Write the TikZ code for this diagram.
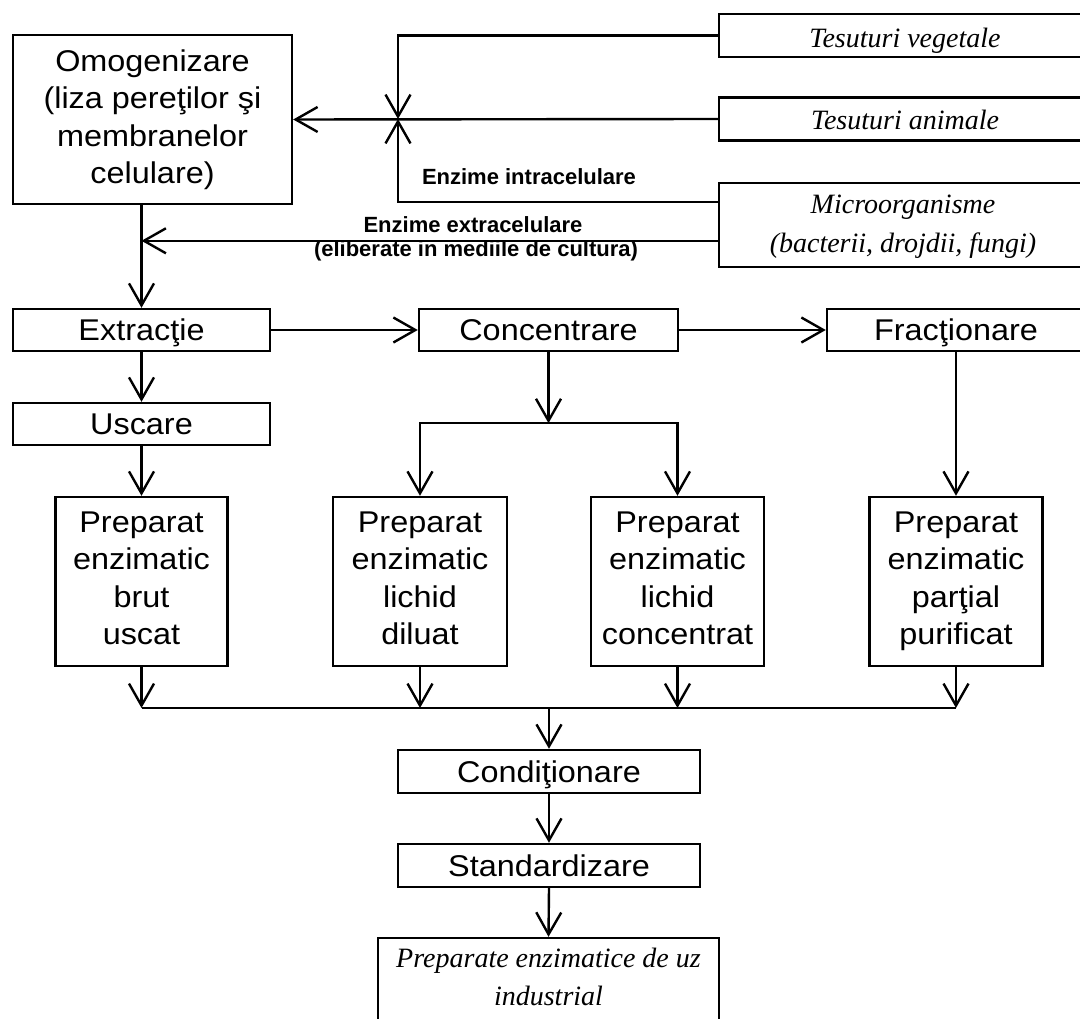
\documentclass[tikz,border=0pt]{standalone}
\usepackage{fontspec}
\setmainfont{Liberation Sans}[FakeStretch=1.08]
\newfontfamily\notefont{Liberation Sans}
\newfontfamily\serifit{Liberation Serif}
\usetikzlibrary{arrows.meta}
\begin{document}
\begin{tikzpicture}[x=1pt,y=-1pt,
  line width=2.4pt,
  box/.style={draw, line width=2.4pt, inner sep=0pt, align=center,
    font=\fontsize{30}{37.5}\selectfont},
  onebox/.style={box, text height=21pt, text depth=0pt},
  ibox/.style={draw, line width=2.4pt, inner sep=0pt},
  itext/.style={inner sep=0pt, anchor=base,
    font=\fontsize{28}{34}\selectfont\serifit\itshape},
  note/.style={inner sep=0pt, anchor=base,
    font=\fontsize{22}{24}\selectfont\notefont\bfseries},
  flow/.style={-{Straight Barb[length=22pt,width=25pt]}},
]
\useasboundingbox (0,0) rectangle (1080,1019);
\clip (0,0) rectangle (1080,1019);

% sources of enzymes (boxes run off the right edge)
\node[ibox, minimum width=372pt, minimum height=43pt] (veg) at (905,35.5) {};
\node[itext] (veg-t) at (905,48) {Tesuturi vegetale};
\node[ibox, minimum width=372pt, minimum height=43pt] (anim) at (905,119) {};
\node[itext] (anim-t) at (905,130) {Tesuturi animale};
\node[ibox, minimum width=372pt, minimum height=84pt] (micro) at (905,225) {};
\node[itext] (micro-t1) at (903,214) {Microorganisme};
\node[itext] (micro-t2) at (903,253) {(bacterii, drojdii, fungi)};

% homogenisation
\node[box, minimum width=279pt, minimum height=169pt] (omog) at (152.5,119.5)
  {Omogenizare\\(liza pereţilor şi\\membranelor\\celulare)};

% processing steps
\node[onebox, minimum width=257pt, minimum height=42pt] (extr) at (141.5,330) {Extracţie};
\node[onebox, minimum width=259pt, minimum height=42pt] (conc) at (548.5,330) {Concentrare};
\node[onebox, minimum width=258pt, minimum height=42pt] (frac) at (956,330) {Fracţionare};
\node[onebox, minimum width=257pt, minimum height=42pt] (usc) at (141.5,424) {Uscare};

% products
\node[box, minimum width=172pt, minimum height=169pt] (p1) at (141.5,581.5) {Preparat\\enzimatic\\brut\\uscat\vphantom{p}};
\node[box, minimum width=174pt, minimum height=169pt] (p2) at (420,581.5) {Preparat\\enzimatic\\lichid\\diluat\vphantom{p}};
\node[box, minimum width=173pt, minimum height=169pt] (p3) at (677.5,581.5) {Preparat\\enzimatic\\lichid\\concentrat\vphantom{p}};
\node[box, minimum width=173pt, minimum height=169pt] (p4) at (956,581.5) {Preparat\\enzimatic\\parţial\\purificat};

% final steps
\node[onebox, minimum width=302pt, minimum height=43pt] (cond) at (549,771.5) {Condiţionare};
\node[onebox, minimum width=302pt, minimum height=43pt] (std) at (549,865.5) {Standardizare};
\node[ibox, minimum width=341pt, minimum height=92pt] (fin) at (548.5,984) {};
\node[itext] (fin-t1) at (548.5,967) {Preparate enzimatice de uz};
\node[itext] (fin-t2) at (548.5,1005) {industrial};

% route labels
\node[note] (lin) at (529,185) {Enzime intracelulare};
\node[note] (lex1) at (473,233) {Enzime extracelulare};
\node[note] (lex2) at (476,257) {(eliberate in mediile de cultura)};

% junction of the intracellular sources
\coordinate (J) at (398,119);
\draw[flow] (veg.west) -| (J);
\coordinate (mi) at ([yshift=-20pt]micro.north west);
\draw[flow] (mi) -| (J);
\draw[flow] (anim.west) -- (omog.east);

% extracellular route
\coordinate (exS) at ([yshift=-59pt]micro.north west);
\coordinate (exE) at (exS -| extr.north);
\draw[flow] (exS) -- (exE);
\draw[flow] (omog.south -| extr.north) -- (extr.north);

% main chain
\draw[flow] (extr.east) -- (conc.west);
\draw[flow] (conc.east) -- (frac.west);
\draw[flow] (extr.south) -- (usc.north);
\draw[flow] (usc.south) -- (p1.north);
\coordinate (split) at ([yshift=-71pt]conc.south);
\draw[flow] (conc.south) -- (split);
\draw[flow] (split) -| (p2.north);
\draw[flow] (split) -| (p3.north);
\draw[flow] (frac.south -| p4.north) -- (p4.north);

% collecting line
\coordinate (bus) at (549,708);
\draw[flow] (p1.south) -- (p1.south |- bus);
\draw[flow] (p2.south) -- (p2.south |- bus);
\draw[flow] (p3.south) -- (p3.south |- bus);
\draw[flow] (p4.south) -- (p4.south |- bus);
\draw (p1.south |- bus) -- (p4.south |- bus);
\draw[flow] (bus -| cond.north) -- (cond.north);
\draw[flow] (cond.south) -- (std.north);
\draw[flow] (std.south) -- (fin.north);
\end{tikzpicture}
\end{document}
